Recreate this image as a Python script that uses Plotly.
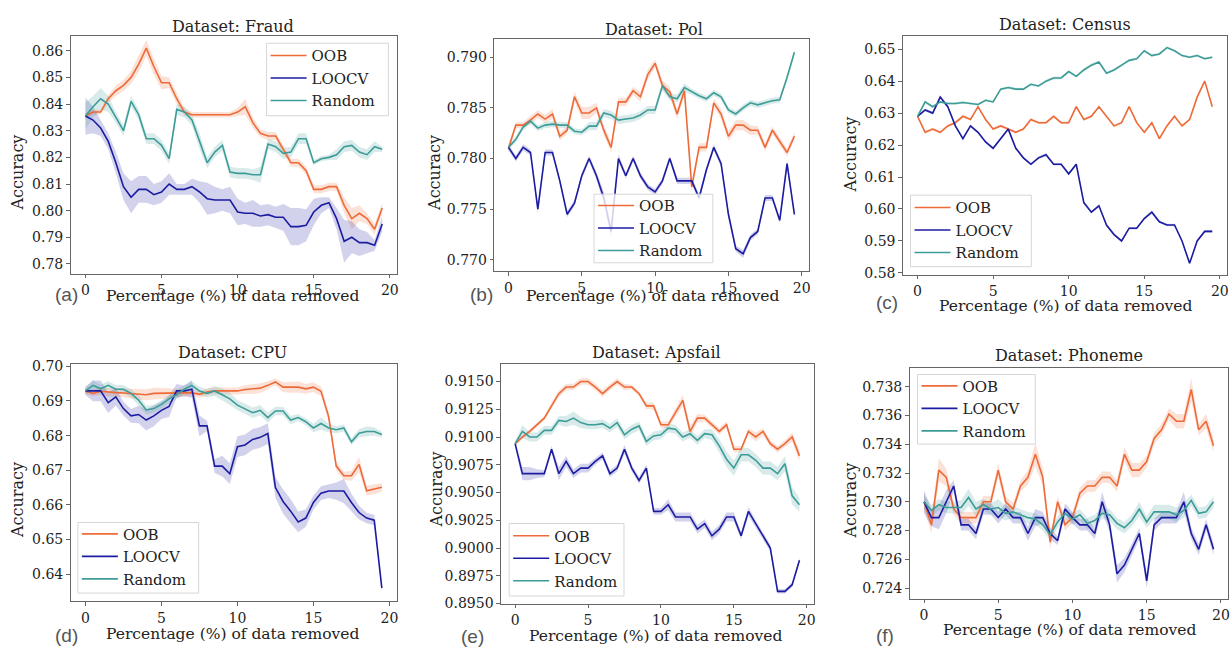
import plotly.graph_objects as go

W, H = 1232, 654

pct = [0, 0.5, 1, 1.5, 2, 2.5, 3, 3.5, 4, 4.5, 5, 5.5, 6, 6.5, 7, 7.5, 8, 8.5, 9, 9.5,
       10, 10.5, 11, 11.5, 12, 12.5, 13, 13.5, 14, 14.5, 15, 15.5, 16, 16.5, 17, 17.5, 18, 18.5, 19, 19.5]

series_names = ["OOB", "LOOCV", "Random"]
datasets = ["Fraud", "Pol", "Census", "CPU", "Apsfail", "Phoneme"]
panel_labels = ["(a)", "(b)", "(c)", "(d)", "(e)", "(f)"]

# ---------------- Fraud ----------------
fraud_oob = [0.8355, 0.837, 0.837, 0.842, 0.845, 0.847, 0.850, 0.855, 0.861, 0.854, 0.848, 0.848, 0.842, 0.837, 0.836, 0.836, 0.836, 0.836, 0.836, 0.836,
             0.837, 0.839, 0.833, 0.829, 0.828, 0.828, 0.823, 0.818, 0.818, 0.815, 0.808, 0.808, 0.809, 0.809, 0.802, 0.797, 0.799, 0.797, 0.793, 0.801]
fraud_oob_err = [0.001, 0.001, 0.001, 0.0015, 0.002, 0.002, 0.0025, 0.003, 0.003, 0.003, 0.0025, 0.002, 0.002, 0.0015, 0.001, 0.001, 0.001, 0.001, 0.001, 0.001,
                 0.0015, 0.003, 0.002, 0.0015, 0.0015, 0.0015, 0.0015, 0.0015, 0.0015, 0.0015, 0.0015, 0.0015, 0.0015, 0.0015, 0.003, 0.004, 0.003, 0.002, 0.002, 0.002]
fraud_loocv = [0.8355, 0.834, 0.831, 0.826, 0.818, 0.809, 0.805, 0.808, 0.808, 0.806, 0.807, 0.810, 0.808, 0.808, 0.809, 0.807, 0.8045, 0.804, 0.804, 0.804,
               0.7995, 0.799, 0.799, 0.798, 0.7985, 0.7975, 0.7975, 0.794, 0.794, 0.7945, 0.7995, 0.802, 0.803, 0.797, 0.7885, 0.790, 0.788, 0.788, 0.787, 0.795]
fraud_loocv_err = [0.007, 0.005, 0.003, 0.003, 0.004, 0.005, 0.006, 0.005, 0.005, 0.004, 0.004, 0.004, 0.002, 0.002, 0.003, 0.004, 0.006, 0.005, 0.004, 0.005,
                   0.005, 0.004, 0.005, 0.004, 0.004, 0.004, 0.005, 0.007, 0.007, 0.006, 0.005, 0.003, 0.002, 0.004, 0.008, 0.006, 0.005, 0.004, 0.002, 0.003]
fraud_rand = [0.8355, 0.839, 0.842, 0.840, 0.835, 0.830, 0.841, 0.836, 0.827, 0.827, 0.8245, 0.8195, 0.838, 0.837, 0.834, 0.826, 0.818, 0.822, 0.8245, 0.8145,
              0.814, 0.814, 0.8135, 0.8135, 0.825, 0.824, 0.8215, 0.822, 0.827, 0.827, 0.818, 0.8195, 0.820, 0.821, 0.824, 0.8245, 0.822, 0.821, 0.824, 0.823]
fraud_rand_err = [0.005, 0.004, 0.004, 0.003, 0.002, 0.002, 0.002, 0.002, 0.002, 0.002, 0.002, 0.002, 0.002, 0.002, 0.002, 0.003, 0.002, 0.002, 0.002, 0.002,
                  0.002, 0.002, 0.002, 0.003, 0.002, 0.002, 0.002, 0.002, 0.002, 0.002, 0.001, 0.001, 0.001, 0.002, 0.002, 0.002, 0.002, 0.002, 0.002, 0.001]

# ---------------- Pol ----------------
pol_oob = [0.7810, 0.7833, 0.7833, 0.7838, 0.7844, 0.7839, 0.7844, 0.7822, 0.7828, 0.7861, 0.7845, 0.7845, 0.7850, 0.7828, 0.7811, 0.7856, 0.7856, 0.7867, 0.7861, 0.7883,
           0.7894, 0.7872, 0.7866, 0.7844, 0.7867, 0.7772, 0.7811, 0.7811, 0.7855, 0.7844, 0.7822, 0.7833, 0.7833, 0.7828, 0.7828, 0.7811, 0.7828, 0.7817, 0.7806, 0.7822]
pol_oob_err = [0.0004, 0.0003, 0.0003, 0.0004, 0.0004, 0.0004, 0.0005, 0.0004, 0.0004, 0.0005, 0.0006, 0.0006, 0.0005, 0.0005, 0.0005, 0.0004, 0.0004, 0.0004, 0.0005, 0.0005,
               0.0004, 0.0005, 0.0005, 0.0005, 0.0005, 0.0005, 0.0004, 0.0004, 0.0004, 0.0005, 0.0005, 0.0005, 0.0005, 0.0005, 0.0004, 0.0004, 0.0004, 0.0004, 0.0004, 0.0004]
pol_loocv = [0.7811, 0.7800, 0.7811, 0.7806, 0.7750, 0.7806, 0.7806, 0.7778, 0.7745, 0.7756, 0.7783, 0.7800, 0.7783, 0.7761, 0.7728, 0.7800, 0.7783, 0.7800, 0.7783, 0.7772,
             0.7767, 0.7778, 0.7800, 0.7778, 0.7778, 0.7778, 0.7761, 0.7789, 0.7811, 0.7795, 0.7745, 0.7711, 0.7706, 0.7722, 0.7728, 0.7761, 0.7761, 0.7739, 0.7795, 0.7745]
pol_loocv_err = [0.0003, 0.0003, 0.0003, 0.0003, 0.0004, 0.0003, 0.0003, 0.0003, 0.0003, 0.0003, 0.0003, 0.0003, 0.0004, 0.0006, 0.0008, 0.0004, 0.0003, 0.0003, 0.0003, 0.0003,
                 0.0003, 0.0003, 0.0003, 0.0003, 0.0003, 0.0003, 0.0004, 0.0003, 0.0003, 0.0003, 0.0004, 0.0003, 0.0004, 0.0003, 0.0003, 0.0003, 0.0003, 0.0003, 0.0003, 0.0003]
pol_rand = [0.7811, 0.7819, 0.7831, 0.7837, 0.7830, 0.7833, 0.7834, 0.7833, 0.7833, 0.7827, 0.7826, 0.7832, 0.7832, 0.7845, 0.7843, 0.7838, 0.7839, 0.7840, 0.7843, 0.7848,
            0.7848, 0.7872, 0.7861, 0.7859, 0.7870, 0.7866, 0.7862, 0.7859, 0.7865, 0.7861, 0.7848, 0.7844, 0.7850, 0.7855, 0.7853, 0.7855, 0.7857, 0.7858, 0.7880, 0.7905]
pol_rand_err = [0.0002, 0.0003, 0.0003, 0.0003, 0.0003, 0.0003, 0.0003, 0.0003, 0.0003, 0.0003, 0.0003, 0.0004, 0.0004, 0.0004, 0.0004, 0.0004, 0.0004, 0.0004, 0.0004, 0.0004,
                0.0004, 0.0004, 0.0004, 0.0004, 0.0004, 0.0003, 0.0003, 0.0003, 0.0003, 0.0003, 0.0003, 0.0003, 0.0003, 0.0003, 0.0003, 0.0003, 0.0003, 0.0003, 0.0003, 0.0003]

# ---------------- Census ----------------
census_oob = [0.629, 0.624, 0.625, 0.624, 0.626, 0.627, 0.629, 0.628, 0.632, 0.628, 0.625, 0.626, 0.625, 0.624, 0.625, 0.628, 0.627, 0.627, 0.629, 0.627,
              0.627, 0.632, 0.628, 0.629, 0.632, 0.629, 0.626, 0.627, 0.632, 0.627, 0.624, 0.627, 0.622, 0.626, 0.629, 0.626, 0.628, 0.635, 0.640, 0.632]
census_oob_err = [0.0004, 0.0005, 0.0005, 0.0004, 0.0004, 0.0004, 0.0004, 0.0004, 0.0004, 0.0004, 0.0004, 0.0004, 0.0004, 0.0004, 0.0004, 0.0004, 0.0004, 0.0004, 0.0004, 0.0004,
                  0.0004, 0.0004, 0.0004, 0.0004, 0.0004, 0.0004, 0.0005, 0.0004, 0.0004, 0.0004, 0.0004, 0.0004, 0.0005, 0.0004, 0.0004, 0.0004, 0.0004, 0.0004, 0.0004, 0.0004]
census_loocv = [0.629, 0.631, 0.630, 0.635, 0.632, 0.626, 0.622, 0.626, 0.624, 0.621, 0.619, 0.622, 0.625, 0.619, 0.616, 0.614, 0.616, 0.617, 0.614, 0.614,
                0.611, 0.614, 0.602, 0.599, 0.601, 0.595, 0.592, 0.590, 0.594, 0.594, 0.597, 0.599, 0.596, 0.595, 0.595, 0.590, 0.583, 0.590, 0.593, 0.593]
census_loocv_err = [0.0004, 0.0004, 0.0004, 0.0005, 0.0004, 0.0004, 0.0004, 0.0004, 0.0004, 0.0004, 0.0005, 0.0004, 0.0004, 0.0004, 0.0004, 0.0004, 0.0004, 0.0005, 0.0004, 0.0004,
                    0.0004, 0.0004, 0.0004, 0.0004, 0.0004, 0.0004, 0.0004, 0.0004, 0.0004, 0.0004, 0.0004, 0.0005, 0.0004, 0.0004, 0.0004, 0.0004, 0.0004, 0.0004, 0.0004, 0.0005]
census_rand = [0.629, 0.6335, 0.632, 0.6335, 0.633, 0.633, 0.6333, 0.633, 0.6327, 0.634, 0.6335, 0.6375, 0.638, 0.6375, 0.6375, 0.639, 0.6385, 0.640, 0.641, 0.641,
               0.643, 0.6415, 0.6435, 0.645, 0.646, 0.6425, 0.6435, 0.645, 0.6465, 0.647, 0.6495, 0.648, 0.6485, 0.6505, 0.6495, 0.648, 0.6475, 0.648, 0.647, 0.6475]
census_rand_err = [0.0003, 0.0005, 0.0004, 0.0004, 0.0004, 0.0004, 0.0004, 0.0004, 0.0004, 0.0004, 0.0004, 0.0004, 0.0004, 0.0004, 0.0004, 0.0004, 0.0004, 0.0004, 0.0005, 0.0004,
                   0.0004, 0.0004, 0.0005, 0.0005, 0.0004, 0.0004, 0.0004, 0.0004, 0.0004, 0.0004, 0.0004, 0.0004, 0.0004, 0.0004, 0.0004, 0.0004, 0.0004, 0.0004, 0.0004, 0.0004]

# ---------------- CPU ----------------
cpu_oob = [0.6928, 0.6922, 0.6928, 0.6925, 0.6924, 0.6923, 0.6922, 0.6919, 0.6918, 0.6922, 0.6922, 0.6923, 0.6922, 0.6924, 0.6924, 0.6919, 0.6926, 0.6929, 0.6929, 0.6929,
           0.6929, 0.6933, 0.6934, 0.6937, 0.6945, 0.6955, 0.6940, 0.6940, 0.6940, 0.6935, 0.6940, 0.6928, 0.6855, 0.6712, 0.6684, 0.6684, 0.6717, 0.6641, 0.6645, 0.6651]
cpu_oob_err = [0.0008, 0.0008, 0.0010, 0.0012, 0.0012, 0.0012, 0.0014, 0.0015, 0.0016, 0.0016, 0.0016, 0.0014, 0.0012, 0.0012, 0.0010, 0.0010, 0.0010, 0.0010, 0.0010, 0.0010,
               0.0010, 0.0012, 0.0014, 0.0014, 0.0012, 0.0010, 0.0014, 0.0016, 0.0016, 0.0014, 0.0014, 0.0014, 0.0014, 0.0012, 0.0012, 0.0014, 0.0022, 0.0014, 0.0014, 0.0012]
cpu_loocv = [0.6929, 0.6929, 0.6929, 0.6895, 0.6912, 0.6878, 0.6857, 0.6861, 0.6845, 0.6857, 0.6873, 0.6884, 0.6929, 0.6929, 0.6934, 0.6828, 0.6828, 0.6712, 0.6712, 0.6690,
             0.6768, 0.6773, 0.6789, 0.6795, 0.6806, 0.6650, 0.6610, 0.6582, 0.6551, 0.6562, 0.6607, 0.6634, 0.6640, 0.6640, 0.6640, 0.6607, 0.6578, 0.6562, 0.6556, 0.6360]
cpu_loocv_err = [0.0012, 0.0030, 0.0030, 0.0030, 0.0025, 0.0020, 0.0020, 0.0025, 0.0030, 0.0030, 0.0025, 0.0030, 0.0020, 0.0015, 0.0025, 0.0030, 0.0015, 0.0020, 0.0030, 0.0030,
                 0.0030, 0.0030, 0.0030, 0.0030, 0.0030, 0.0030, 0.0035, 0.0035, 0.0030, 0.0025, 0.0020, 0.0020, 0.0020, 0.0025, 0.0035, 0.0025, 0.0020, 0.0015, 0.0015, 0.0010]
cpu_rand = [0.6929, 0.6945, 0.6935, 0.6945, 0.6934, 0.6934, 0.6922, 0.6902, 0.6874, 0.6878, 0.6890, 0.6906, 0.6918, 0.6934, 0.6945, 0.6929, 0.6922, 0.6929, 0.6918, 0.6906,
            0.6888, 0.6878, 0.6866, 0.6873, 0.6852, 0.6871, 0.6871, 0.6845, 0.6852, 0.6840, 0.6822, 0.6835, 0.6822, 0.6817, 0.6822, 0.6782, 0.6807, 0.6812, 0.6812, 0.6803]
cpu_rand_err = [0.0010, 0.0015, 0.0012, 0.0012, 0.0012, 0.0012, 0.0012, 0.0015, 0.0012, 0.0012, 0.0012, 0.0012, 0.0012, 0.0012, 0.0012, 0.0012, 0.0012, 0.0015, 0.0018, 0.0018,
                0.0015, 0.0015, 0.0015, 0.0015, 0.0015, 0.0012, 0.0012, 0.0012, 0.0010, 0.0010, 0.0012, 0.0018, 0.0012, 0.0010, 0.0010, 0.0010, 0.0012, 0.0014, 0.0012, 0.0008]

# ---------------- Apsfail ----------------
aps_oob = [0.9094, 0.9100, 0.9105, 0.9111, 0.9117, 0.9128, 0.9139, 0.9145, 0.9145, 0.9150, 0.9150, 0.9145, 0.9139, 0.9145, 0.9150, 0.9145, 0.9145, 0.9139, 0.9128, 0.9128,
           0.9111, 0.9111, 0.9122, 0.9133, 0.9105, 0.9117, 0.9117, 0.9111, 0.9105, 0.9111, 0.9089, 0.9089, 0.9105, 0.9100, 0.9105, 0.9094, 0.9089, 0.9094, 0.9100, 0.9083]
aps_oob_err = [0.0002, 0.0002, 0.0002, 0.0002, 0.0002, 0.0003, 0.0003, 0.0003, 0.0003, 0.0003, 0.0003, 0.0003, 0.0003, 0.0003, 0.0003, 0.0003, 0.0002, 0.0002, 0.0003, 0.0003,
               0.0003, 0.0003, 0.0004, 0.0005, 0.0005, 0.0004, 0.0003, 0.0003, 0.0003, 0.0003, 0.0003, 0.0003, 0.0003, 0.0004, 0.0003, 0.0003, 0.0003, 0.0003, 0.0004, 0.0005]
aps_loocv = [0.9094, 0.9067, 0.9067, 0.9067, 0.9067, 0.9089, 0.9067, 0.9078, 0.9067, 0.9072, 0.9072, 0.9078, 0.9083, 0.9067, 0.9072, 0.9089, 0.9072, 0.9061, 0.9072, 0.9033,
             0.9033, 0.9039, 0.9028, 0.9028, 0.9028, 0.9017, 0.9022, 0.9011, 0.9017, 0.9028, 0.9028, 0.9011, 0.9033, 0.9022, 0.9011, 0.9000, 0.8961, 0.8961, 0.8967, 0.8989]
aps_loocv_err = [0.0002, 0.0006, 0.0006, 0.0004, 0.0003, 0.0003, 0.0006, 0.0005, 0.0004, 0.0004, 0.0004, 0.0003, 0.0003, 0.0003, 0.0003, 0.0004, 0.0003, 0.0003, 0.0003, 0.0003,
                 0.0003, 0.0005, 0.0004, 0.0004, 0.0004, 0.0004, 0.0004, 0.0004, 0.0004, 0.0004, 0.0004, 0.0003, 0.0004, 0.0003, 0.0003, 0.0003, 0.0002, 0.0002, 0.0002, 0.0002]
aps_rand = [0.9094, 0.9105, 0.9100, 0.9100, 0.9106, 0.9106, 0.9115, 0.9114, 0.9117, 0.9113, 0.9111, 0.9111, 0.9112, 0.9108, 0.9113, 0.9102, 0.9107, 0.9110, 0.9096, 0.9101,
            0.9102, 0.9108, 0.9107, 0.9100, 0.9103, 0.9097, 0.9103, 0.9102, 0.9092, 0.9080, 0.9072, 0.9084, 0.9084, 0.9079, 0.9072, 0.9072, 0.9067, 0.9076, 0.9047, 0.9039]
aps_rand_err = [0.0002, 0.0006, 0.0004, 0.0004, 0.0004, 0.0004, 0.0004, 0.0005, 0.0006, 0.0005, 0.0004, 0.0004, 0.0004, 0.0004, 0.0004, 0.0004, 0.0004, 0.0004, 0.0004, 0.0004,
                0.0004, 0.0004, 0.0004, 0.0004, 0.0004, 0.0004, 0.0004, 0.0005, 0.0006, 0.0007, 0.0007, 0.0006, 0.0006, 0.0006, 0.0006, 0.0006, 0.0006, 0.0007, 0.0008, 0.0006]

# ---------------- Phoneme ----------------
pho_oob = [0.7300, 0.7284, 0.7322, 0.7317, 0.7295, 0.7289, 0.7289, 0.7289, 0.7300, 0.7300, 0.7322, 0.7300, 0.7295, 0.7311, 0.7317, 0.7333, 0.7317, 0.7272, 0.7300, 0.7284,
           0.7289, 0.7306, 0.7311, 0.7311, 0.7317, 0.7317, 0.7311, 0.7333, 0.7322, 0.7322, 0.7328, 0.7344, 0.7350, 0.7361, 0.7356, 0.7356, 0.7378, 0.7350, 0.7356, 0.7339]
pho_oob_err = [0.0005, 0.0006, 0.0008, 0.0006, 0.0004, 0.0004, 0.0004, 0.0004, 0.0004, 0.0004, 0.0005, 0.0004, 0.0004, 0.0004, 0.0005, 0.0008, 0.0006, 0.0005, 0.0004, 0.0004,
               0.0004, 0.0004, 0.0004, 0.0004, 0.0004, 0.0004, 0.0004, 0.0005, 0.0005, 0.0005, 0.0004, 0.0004, 0.0004, 0.0004, 0.0005, 0.0005, 0.0008, 0.0004, 0.0005, 0.0005]
pho_loocv = [0.7300, 0.7289, 0.7289, 0.7300, 0.7311, 0.7284, 0.7284, 0.7278, 0.7295, 0.7295, 0.7289, 0.7295, 0.7289, 0.7289, 0.7278, 0.7289, 0.7289, 0.7278, 0.7273, 0.7295,
             0.7289, 0.7284, 0.7284, 0.7278, 0.7300, 0.7284, 0.7250, 0.7256, 0.7267, 0.7278, 0.7245, 0.7284, 0.7289, 0.7289, 0.7289, 0.7300, 0.7278, 0.7267, 0.7284, 0.7267]
pho_loocv_err = [0.0008, 0.0006, 0.0008, 0.0008, 0.0004, 0.0004, 0.0004, 0.0004, 0.0004, 0.0004, 0.0004, 0.0004, 0.0004, 0.0004, 0.0005, 0.0006, 0.0004, 0.0004, 0.0003, 0.0004,
                 0.0004, 0.0004, 0.0004, 0.0004, 0.0007, 0.0005, 0.0006, 0.0005, 0.0004, 0.0004, 0.0005, 0.0004, 0.0004, 0.0004, 0.0004, 0.0007, 0.0004, 0.0004, 0.0004, 0.0004]
pho_rand = [0.7300, 0.7294, 0.7298, 0.7296, 0.7296, 0.7296, 0.7303, 0.7295, 0.7298, 0.7295, 0.7296, 0.7292, 0.7293, 0.7291, 0.7289, 0.7288, 0.7284, 0.7277, 0.7286, 0.7292,
            0.7288, 0.7291, 0.7285, 0.7287, 0.7292, 0.7291, 0.7285, 0.7282, 0.7287, 0.7295, 0.7286, 0.7293, 0.7293, 0.7293, 0.7291, 0.7294, 0.7301, 0.7292, 0.7293, 0.7300]
pho_rand_err = [0.0005, 0.0004, 0.0004, 0.0004, 0.0004, 0.0005, 0.0006, 0.0005, 0.0004, 0.0004, 0.0006, 0.0005, 0.0004, 0.0004, 0.0004, 0.0004, 0.0004, 0.0004, 0.0004, 0.0004,
                0.0004, 0.0004, 0.0004, 0.0004, 0.0004, 0.0004, 0.0004, 0.0004, 0.0004, 0.0005, 0.0004, 0.0005, 0.0005, 0.0005, 0.0005, 0.0005, 0.0004, 0.0004, 0.0004, 0.0004]

panel_data = [
    [(fraud_oob, fraud_oob_err), (fraud_loocv, fraud_loocv_err), (fraud_rand, fraud_rand_err)],
    [(pol_oob, pol_oob_err), (pol_loocv, pol_loocv_err), (pol_rand, pol_rand_err)],
    [(census_oob, census_oob_err), (census_loocv, census_loocv_err), (census_rand, census_rand_err)],
    [(cpu_oob, cpu_oob_err), (cpu_loocv, cpu_loocv_err), (cpu_rand, cpu_rand_err)],
    [(aps_oob, aps_oob_err), (aps_loocv, aps_loocv_err), (aps_rand, aps_rand_err)],
    [(pho_oob, pho_oob_err), (pho_loocv, pho_loocv_err), (pho_rand, pho_rand_err)],
]

y_ticks = [
    [0.78, 0.79, 0.80, 0.81, 0.82, 0.83, 0.84, 0.85, 0.86],
    [0.770, 0.775, 0.780, 0.785, 0.790],
    [0.58, 0.59, 0.60, 0.61, 0.62, 0.63, 0.64, 0.65],
    [0.64, 0.65, 0.66, 0.67, 0.68, 0.69, 0.70],
    [0.8950, 0.8975, 0.9000, 0.9025, 0.9050, 0.9075, 0.9100, 0.9125, 0.9150],
    [0.724, 0.726, 0.728, 0.730, 0.732, 0.734, 0.736, 0.738],
]
y_fmt = [".2f", ".3f", ".2f", ".2f", ".4f", ".3f"]
x_ticks = [0, 5, 10, 15, 20]

# ---------------- styling / layout (pixel geometry) ----------------
colors = ["#EE6A38", "#1C1CA2", "#3C9C97"]
fills = ["rgba(238,106,56,0.2)", "rgba(28,28,162,0.2)", "rgba(60,156,151,0.2)"]
SERIF = "DejaVu Serif"

# axes boxes in pixels: (left, right, top, bottom)
boxes = [(70.7, 397.7, 32, 274), (495, 810, 34.3, 271.7), (904.3, 1229, 31.7, 275),
         (70.7, 397.3, 366, 608.3), (501.7, 815, 366, 610.7), (911, 1230, 370, 606)]
y_ranges = [(0.7764, 0.8654), (0.76887, 0.79184), (0.5795, 0.6541),
            (0.6322, 0.70075), (0.8950, 0.9166), (0.72325, 0.73932)]
titles_px = [(233, 22), (655, 25), (1067, 20), (233, 355), (658, 355), (1071, 358)]
xtitle_px = [(233, 297), (654, 297), (1067, 307), (233, 642), (657, 644), (1071, 638)]
ytitle_px = [(18, 171), (435, 171), (852, 153), (18, 505), (437, 494), (852, 506)]
plabel_px = [(67, 295), (482, 295), (888, 304), (67, 643), (473, 644), (886, 643)]
# legend frames: (left, right, top, bottom) and first-entry centre y
legbox_px = [(267, 389, 39, 113), (595, 714, 193, 263), (912, 1033, 194, 267),
             (78, 199, 528, 600), (510, 625, 529, 603), (919, 1037, 377, 448)]
legentry_px = [52, 205, 207, 540, 542, 389]


def px(xp):
    return xp / W


def py(yp):
    return 1 - yp / H


fig = go.Figure()
layout = dict(
    width=W, height=H, autosize=False,
    margin=dict(l=0, r=0, t=0, b=0),
    paper_bgcolor="white", plot_bgcolor="white",
    font=dict(family=SERIF, size=14, color="#222222"),
)
annotations = []
shapes = []

for i in range(6):
    n = i + 1
    xa = "x" if n == 1 else f"x{n}"
    ya = "y" if n == 1 else f"y{n}"
    leg = "legend" if n == 1 else f"legend{n}"
    for s, (mean, err) in enumerate(panel_data[i]):
        upper = [m + e for m, e in zip(mean, err)]
        lower = [m - e for m, e in zip(mean, err)]
        fig.add_trace(go.Scatter(
            x=pct + pct[::-1], y=upper + lower[::-1], fill="toself",
            fillcolor=fills[s], line=dict(width=0), mode="lines",
            hoverinfo="skip", showlegend=False, xaxis=xa, yaxis=ya))
    for s, (mean, err) in enumerate(panel_data[i]):
        fig.add_trace(go.Scatter(
            x=pct, y=mean, mode="lines", name=series_names[s],
            line=dict(color=colors[s], width=1.6),
            showlegend=True, legend=leg, xaxis=xa, yaxis=ya))

    l, r, t, b = boxes[i]
    axis_common = dict(showline=True, mirror=True, linecolor="#666666", linewidth=1,
                       ticks="outside", ticklen=3.5, tickcolor="#666666",
                       showgrid=False, zeroline=False,
                       tickfont=dict(family=SERIF, size=14, color="#222222"))
    layout["xaxis" if n == 1 else f"xaxis{n}"] = dict(
        domain=[px(l), px(r)], anchor=ya, range=[-0.975, 20.475],
        tickvals=x_ticks, ticktext=[str(v) for v in x_ticks], **axis_common)
    layout["yaxis" if n == 1 else f"yaxis{n}"] = dict(
        domain=[py(b), py(t)], anchor=xa, range=list(y_ranges[i]),
        tickvals=y_ticks[i], tickformat=y_fmt[i], **axis_common)

    # legend frame (semi-transparent, above the data) + transparent legend text
    bl, br, bt, bb = legbox_px[i]
    shapes.append(dict(type="rect", xref="paper", yref="paper", layer="above",
                       x0=px(bl), x1=px(br), y0=py(bb), y1=py(bt),
                       fillcolor="rgba(255,255,255,0.8)",
                       line=dict(color="#d6d6d6", width=1)))
    layout[leg] = dict(
        x=px(bl - 1), y=py(legentry_px[i] - 17), xanchor="left", yanchor="top",
        bgcolor="rgba(0,0,0,0)", borderwidth=0,
        font=dict(family=SERIF, size=15, color="#222222"),
        itemwidth=36, tracegroupgap=0)

    tx, ty = titles_px[i]
    annotations.append(dict(text=f"Dataset: {datasets[i]}", x=px(tx), y=py(ty), xref="paper", yref="paper",
                            showarrow=False, xanchor="center", yanchor="middle",
                            font=dict(family=SERIF, size=16, color="#222222")))
    tx, ty = xtitle_px[i]
    annotations.append(dict(text="Percentage (%) of data removed", x=px(tx), y=py(ty), xref="paper", yref="paper",
                            showarrow=False, xanchor="center", yanchor="middle",
                            font=dict(family=SERIF, size=15.5, color="#222222")))
    tx, ty = ytitle_px[i]
    annotations.append(dict(text="Accuracy", x=px(tx), y=py(ty), xref="paper", yref="paper",
                            showarrow=False, xanchor="center", yanchor="middle", textangle=-90,
                            font=dict(family=SERIF, size=16, color="#222222")))
    tx, ty = plabel_px[i]
    annotations.append(dict(text=panel_labels[i], x=px(tx), y=py(ty), xref="paper", yref="paper",
                            showarrow=False, xanchor="center", yanchor="middle",
                            font=dict(family="Liberation Sans", size=19, color="#555555")))

layout["annotations"] = annotations
layout["shapes"] = shapes
fig.update_layout(**layout)
fig.write_html("out.html", config={"displayModeBar": False},
               post_script="document.body.style.margin='0';document.body.style.overflow='hidden';")
